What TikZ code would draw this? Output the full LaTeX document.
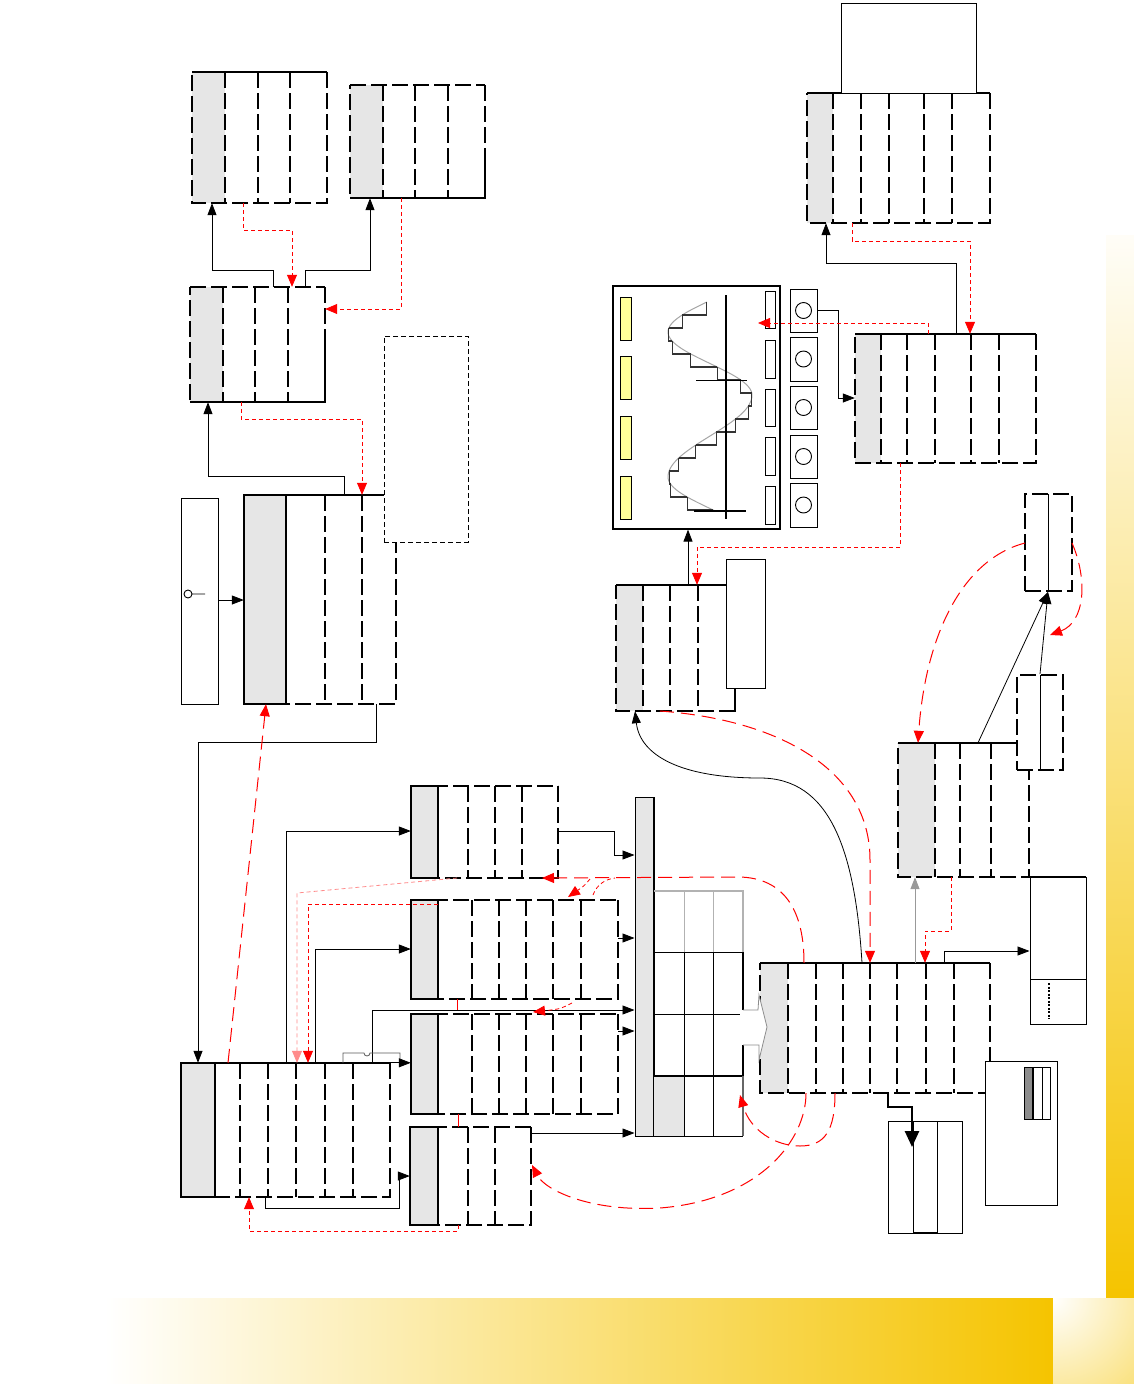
\documentclass[tikz,border=0pt]{standalone}
\usetikzlibrary{arrows.meta,fit}
\definecolor{gold}{RGB}{245,196,0}
\definecolor{tgray}{RGB}{230,230,230}
\definecolor{pyellow}{RGB}{255,255,153}
\tikzset{
  tl/.style={line width=1.8pt},
  dsh/.style={dash pattern=on 16pt off 5pt},
  sol/.style={},
  conn/.style={line width=0.8pt},
  btip/.style={-{Triangle[length=12pt,width=9pt]}},
  rtip/.style={-{Triangle[length=12pt,width=10pt]}},
  rd/.style={red, line width=0.8pt, dash pattern=on 4pt off 3pt},
  rdl/.style={red, line width=1pt, dash pattern=on 14pt off 7pt},
  plain/.style={draw, line width=1pt, fill=white},
  declare function={
    ph(\t)=(\t<=395)?((\t-332)*2.857):((\t<=477)?(180+(\t-395)*2.195):(360+(\t-477)*2.857));
    cx(\t)=710-42*cos(ph(\t));
  },
}
\newcommand\tbl[9]{%
  \node[fit={(#2,#3) (#4,#5)}, inner sep=0pt] (#1) {};
  \fill[tgray] (#2,#3) rectangle (#6,#5);
  \draw[tl,#8] (#2,#3) -- (#4,#3);
  \draw[tl,dsh] (#4,#3) -- (#4,#5) -- (#2,#5) -- (#2,#3);
  \foreach \vv in {#7} {\draw[tl,dsh] (\vv,#3) -- (\vv,#5);}
  \ifx y#9\draw[tl] (#2,#3) rectangle (#6,#5);\fi
}
\begin{document}
\begin{tikzpicture}[x=1pt,y=-1pt]
\useasboundingbox (0,0) rectangle (1134,1384);
\fill[white] (0,0) rectangle (1134,1384);
% background bars
\shade[top color=gold!3, bottom color=gold] (1106,235) rectangle (1134,1298);
\shade[left color=white, right color=gold] (105,1298) rectangle (1053,1384);
\begin{scope}
  \clip (1053,1298) rectangle (1134,1384);
  \shade[inner color=white, outer color=gold] (1053,1298) circle (235);
\end{scope}

% ---------- tables ----------
\tbl{A1}{192}{72}{327}{203}{225}{225,258,290}{sol}{n}
\tbl{A2}{350}{85}{485}{198}{383}{383,415,448}{dsh}{n}
\draw[tl] (350,198) -- (485,198) -- (485,150);
\tbl{A3}{190}{287}{325}{402}{223}{223,255,288}{dsh}{n}
\draw[tl] (190,402) -- (325,402) -- (325,340);
\tbl{A4}{244}{495}{396}{704}{286}{325,362}{sol}{y}
\tbl{D}{181}{1063}{390}{1197}{215}{240,268,296,325,353}{sol}{y}
\tbl{E1}{411}{786}{558}{878}{438}{468,495,522}{dsh}{y}
\tbl{E2}{411}{900}{618}{999}{438}{472,499,526,553,581}{dsh}{y}
\tbl{E3}{411}{1014}{618}{1114}{438}{472,499,526,553,581}{dsh}{y}
\tbl{E4}{410}{1127}{531}{1225}{438}{468,495}{dsh}{y}
\tbl{G}{760}{963}{990}{1093}{788}{788,816,843,870,897,926,954}{sol}{n}
\tbl{I}{616}{585}{735}{711}{643}{643,670,698}{sol}{n}
\tbl{J}{898}{743}{1029}{877}{935}{935,960,991}{sol}{n}
\tbl{Q}{807}{93}{990}{223}{833}{833,861,889,924,952}{sol}{n}
\tbl{R}{855}{334}{1036}{463}{881}{881,907,935,971,999}{sol}{n}

% ---------- plain boxes ----------
\node[fit={(181,498) (218,704)}, inner sep=0pt, plain] (C) {};
\draw[line width=0.9pt] (188,594) circle (4) (192,594) -- (205,594);
\node[fit={(384,336) (468,542)}, inner sep=0pt, draw, fill=white, line width=0.9pt, dash pattern=on 5pt off 3pt] (B) {};
\node[fit={(841,3) (976,93)}, inner sep=0pt, plain] (P) {};
\node[fit={(726,559) (765,688)}, inner sep=0pt, plain] (T) {};
\draw[tl] (735,688) -- (735,711);
\node[fit={(635,797) (654,1136)}, inner sep=0pt, draw, fill=tgray, line width=1pt] (F) {};
\draw[tl] (654,797) -- (654,1136);

% K boxes
\node[fit={(1025,494) (1072,591)}, inner sep=0pt, draw, fill=white, tl, dsh] (K1) {};
\draw[line width=0.8pt] (1048,494) -- (1048,591);
\node[fit={(1017,675) (1063,770)}, inner sep=0pt, draw, fill=white, tl, dsh] (K2) {};
\draw[line width=0.8pt] (1040,675) -- (1040,770);

% L box
\node[fit={(1030,877) (1086,1024)}, inner sep=0pt, plain] (L) {};
\draw[tl] (1030,877) -- (1086,877);
\draw[line width=0.8pt] (1030,979) -- (1086,979);
\draw[line width=1.2pt, dash pattern=on 2pt off 1.5pt] (1049,983) -- (1049,1019);

% M box
\node[fit={(985,1061) (1057,1205)}, inner sep=0pt, plain] (M) {};
\fill[black!45] (1024,1067) rectangle (1033,1119);
\draw[line width=1pt] (1024,1067) rectangle (1050,1119);
\draw[line width=1.4pt] (1033,1067) -- (1033,1119);
\draw[line width=0.8pt] (1042,1067) -- (1042,1119);

% N box
\node[fit={(888,1121) (962,1233)}, inner sep=0pt, plain] (N) {};
\draw[line width=1pt] (913,1121) -- (913,1233) (937,1121) -- (937,1233);
\draw[tl] (913,1233) -- (937,1233);

% H grid
\node[fit={(654,891) (743,1136)}, inner sep=0pt] (H) {};
\fill[tgray] (654,1076) rectangle (684,1136);
\draw[black!30, line width=1.2pt] (654,891) -- (743,891) -- (743,952);
\draw[black!30, line width=1pt] (684,891) -- (684,952) (713,891) -- (713,952);
\draw[line width=1pt] (654,952) -- (743,952) (654,1014) -- (740,1014) (654,1136) -- (743,1136);
\draw[line width=1.6pt] (654,1076) -- (743,1076);
\draw[line width=1pt] (684,952) -- (684,1136) (713,952) -- (713,1136);
\draw[line width=1.2pt] (743,952) -- (743,1010) (743,1045) -- (743,1076);
\draw[black!60, line width=1.2pt] (743,1076) -- (743,1136);
\draw[black!45, line width=0.8pt, fill=white] (743,1010) -- (758,1010) -- (759,995) -- (767,1027) -- (759,1060) -- (759,1045) -- (743,1045);

% ---------- panel S ----------
\node[fit={(613,286) (780,529)}, inner sep=0pt, draw, line width=1.2pt] (S) {};
\foreach \ya/\yb in {297/340, 356/399, 416/459, 476/519}
  {\draw[fill=pyellow, line width=1pt] (620,\ya) rectangle (631,\yb);}
\foreach \ya/\yb in {291/328, 340/378, 389/426, 437/475, 486/524}
  {\draw[line width=1pt] (765,\ya) rectangle (775,\yb);}
\foreach \ya/\yb in {289/332, 337/381, 386/429, 435/478, 483/527}
  {\draw[line width=0.9pt] (790,\ya) rectangle (817,\yb);
   \draw[line width=0.9pt] (803.5,{(\ya+\yb)/2}) circle (8);}
\draw[black!35, line width=1pt] plot[domain=302:511, samples=90, smooth] ({cx(\x)}, \x);
\foreach \i in {0,...,15} {
  \pgfmathsetmacro\ya{302+\i*13}
  \pgfmathsetmacro\yb{302+(\i+1)*13}
  \pgfmathsetmacro\xa{cx(\ya)}
  \pgfmathsetmacro\xb{cx(\yb)}
  \draw[black!80, line width=1.2pt] (\xa,\ya) -- (\xa,\yb) -- (\xb,\yb);
}
\draw[line width=1.5pt] (726,295) -- (726,519);
\draw[line width=0.8pt] (696,380) -- (747,380);
\draw[line width=1.5pt] (694,511) -- (746,511);

% ---------- black connectors ----------
\draw[conn,btip] (273,0 |- A3.north) -- (273,270) -| (212,0 |- A1.south);
\draw[conn,btip] (305,0 |- A3.north) -- (305,270) -| (370,0 |- A2.south);
\draw[conn,btip] (344,0 |- A4.north) -- (344,476) -| (208,0 |- A3.south);
\draw[conn,btip] (C.east |- 0,600) -- (A4.west |- 0,600);
\draw[conn,btip] (376,0 |- A4.south) -- (376,742) -| (198,0 |- D.north);
\draw[conn,btip] (286,0 |- D.north) |- (E1.west |- 0,831);
\draw[conn,btip] (315,0 |- D.north) |- (E2.west |- 0,949);
\draw[conn,btip] (372,0 |- D.north) |- (F.west |- 0,1010);
\draw[black!65, line width=0.8pt] (343,1063) -- (343,1053) -- (364,1053) arc (180:0:3) -- (400,1053) -- (400,1063);
\draw[conn,btip] (D.north east) -- (E3.west |- D.north east);
\draw[conn,btip] (265,0 |- D.south) -- (265,1208) -- (399,1208) -- (399,1176) -- (E4.west |- 0,1176);
\draw[conn,btip] (E1.east |- 0,831) -- (614,831) -- (614,855) -- (F.west |- 0,855);
\draw[conn,btip] (E2.east |- 0,938) -- (F.west |- 0,938);
\draw[conn,btip] (E3.east |- 0,1031) -- (F.west |- 0,1031);
\draw[conn,btip] (E4.east |- 0,1133) -- (F.west |- 0,1133);
\draw[conn,btip] (862,0 |- G.north) .. controls (855,850) and (830,778) .. (760,778) .. controls (680,778) and (640,755) .. (635,0 |- I.south);
\draw[black!40, line width=1pt, btip] (915,0 |- G.north) -- (915,0 |- J.south);
\draw[conn,btip] (944,0 |- G.north) -- (944,951) -- (L.west |- 0,951);
\draw[line width=2.6pt, -{Triangle[length=16pt,width=14pt]}] (888,0 |- G.south) -- (888,1107) -- (912,1107) -- (912,1147);
\draw[conn,btip] (978,0 |- J.north) -- (1048,0 |- K1.south);
\draw[conn,btip] (1040,0 |- K2.north) -- (1048,0 |- K1.south);
\draw[conn,btip] (956,0 |- R.north) -- (956,263) -| (826,0 |- Q.south);
\draw[conn,btip] (818,310) -- (838,310) -- (838,398) -- (R.west |- 0,398);
\draw[conn,btip] (688,0 |- I.north) -- (688,0 |- S.south);

% ---------- red dashed orthogonal ----------
\draw[rd,rtip] (243,0 |- A1.south) -- (243,230) -| (292,0 |- A3.north);
\draw[rd,rtip] (401,0 |- A2.south) |- (A3.east |- 0,309);
\draw[rd,rtip] (241,0 |- A3.south) -- (241,419) -| (362,0 |- A4.north);
\draw[rd,red!45,rtip] (457,878) -- (297,893) -- (297,0 |- D.north);
\draw[rd,rtip] (438,904) -- (308,904) -- (308,0 |- D.north);
\draw[rd,rtip] (458,0 |- E4.south) -- (458,1231) -| (249,0 |- D.south);
\draw[rd,rtip] (852,0 |- Q.south) -- (852,241) -| (970,0 |- R.north);
\draw[rd,rtip] (928,0 |- R.north) -- (928,323) -- (758,323);
\draw[rd,rtip] (900,0 |- R.south) -- (900,547) -| (697,0 |- I.north);
\draw[rd,rtip] (951,0 |- J.south) -- (951,931) -- (925,931) -- (925,0 |- G.north);
\draw[red, line width=0.8pt] (457,999) -- (457,1010) (458,1114) -- (458,1127);
\draw[rd,rtip] (572,1003) .. controls (560,1009) .. (533,1012);

% ---------- red long dashed curves ----------
\draw[rdl,rtip] (228,0 |- D.north) -- (266,0 |- A4.south);
\draw[rdl,rtip] (660,711) .. controls (780,720) and (870,770) .. (870,860) -- (870,0 |- G.north);
\draw[rdl,rtip] (804,0 |- G.north) .. controls (804,905) and (780,876) .. (735,877) -- (542,878);
\draw[rdl,rtip] (1025,543) .. controls (960,560) and (925,640) .. (918,0 |- J.north);
\draw[rdl,rtip] (1072,543) .. controls (1088,580) and (1085,622) .. (1050,635);
\draw[rdl,rtip] (806,0 |- G.south) .. controls (806,1140) and (760,1200) .. (660,1208) .. controls (590,1212) and (545,1190) .. (532,1165);
\draw[rdl,rtip] (835,0 |- G.south) .. controls (835,1130) and (825,1146) .. (800,1146) .. controls (775,1146) and (750,1130) .. (740,1095);
\draw[rd,rtip] (590,879) .. controls (584,886) .. (568,897);
\draw[rd] (593,895) .. controls (597,884) and (606,879) .. (615,878);
\end{tikzpicture}
\end{document}
